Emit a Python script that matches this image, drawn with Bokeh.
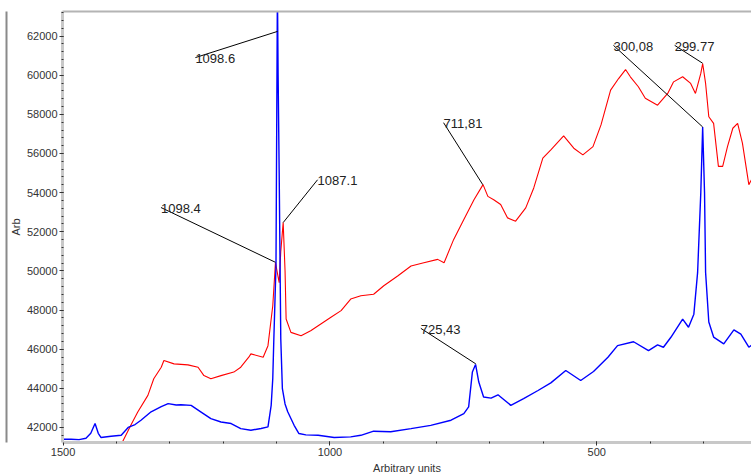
from bokeh.plotting import figure
from bokeh.models import Range1d, SingleIntervalTicker, LinearAxis, FixedTicker
from bokeh.core.properties import value
from bokeh.embed import file_html
from bokeh.resources import INLINE

# Blue spectrum
blue_x = [1500, 1485, 1470, 1457, 1448, 1440, 1434, 1429, 1410, 1391, 1378, 1365, 1354, 1335,
          1316, 1303, 1288, 1279, 1260, 1242, 1223, 1204, 1185, 1167, 1148, 1129, 1116, 1110,
          1107, 1105, 1101, 1099.5, 1098.3, 1097, 1095, 1092, 1089, 1084, 1079, 1067, 1058, 1045,
          1022, 992, 961, 942, 918, 886, 848, 811, 773, 749, 740, 733, 727, 721, 712, 698,
          685, 680, 661, 637, 610, 586, 558, 530, 506, 479, 461, 431, 403, 386, 375, 361,
          339, 328, 318, 311, 305, 301.5, 298, 296, 290, 281, 262, 243, 230, 215, 210]
blue_y = [41400, 41400, 41380, 41450, 41700, 42200, 41700, 41490, 41550, 41600, 42000, 42150,
          42370, 42800, 43060, 43220, 43150, 43160, 43130, 42800, 42450, 42280, 42200, 41940,
          41860, 41950, 42030, 43130, 44500, 46520, 50250, 58000, 64500, 60000, 55000, 46520,
          43980, 43200, 42800, 42110, 41690, 41620, 41600, 41490, 41520, 41600, 41810, 41780,
          41940, 42110, 42370, 42710, 43050, 44830, 45220, 44320, 43560, 43500, 43670, 43560,
          43130, 43470, 43890, 44280, 44910, 44400, 44860, 45590, 46180, 46380, 45930, 46220,
          46100, 46610, 47540, 47120, 47790, 49910, 54000, 57356, 54000, 49920, 47390, 46620,
          46270, 46990, 46770, 46100, 46200]

# Red spectrum
red_x = [1395, 1388, 1373, 1360, 1341, 1330, 1316, 1311, 1292, 1266, 1247, 1236, 1223, 1204,
         1180, 1167, 1152, 1148, 1125, 1116, 1107, 1102, 1095, 1092, 1087.5, 1084, 1082, 1073,
         1054, 1036, 1017, 998, 979, 961, 942, 918, 899, 873, 848, 824, 798, 786, 768, 749,
         730, 713, 704, 693, 680, 667, 652, 633, 618, 601, 586, 562, 543, 526, 507, 492, 474,
         459, 446, 437, 422, 409, 386, 367, 356, 339, 324, 315, 305, 301.5, 296, 290, 281,
         272, 264, 255, 245, 236, 227, 215, 210]
red_y = [40800, 41300, 42110, 42790, 43640, 44490, 45080, 45420, 45250, 45200, 45080, 44650,
         44490, 44650, 44830, 45080, 45590, 45760, 45590, 46180, 48220, 50420, 49400, 51000,
         52470, 50000, 47540, 46860, 46690, 46940, 47290, 47630, 47970, 48560, 48730, 48810,
         49240, 49740, 50250, 50420, 50590, 50420, 51610, 52630, 53640, 54410, 53810, 53640,
         53390, 52710, 52540, 53220, 54240, 55760, 56190, 56900, 56270, 55930, 56350, 57460,
         59240, 59830, 60290, 59920, 59410, 58820, 58470, 59070, 59660, 59920, 59580, 59070,
         60090, 60600, 59580, 57880, 57540, 55340, 55340, 56350, 57290, 57540, 56530, 54410,
         54660]

# Peak annotations: label, peak point, label anchor
ann_labels = ["1098.6", "1098.4", "1087.1", "711,81", "725,43", "300,08", "299.77"]
ann_px = [1098, 1102, 1087.5, 713.5, 726.6, 301.5, 301.5]
ann_py = [62240, 50440, 52470, 54406, 45250, 57356, 60611]
ann_tx = [1252, 1316.5, 1023, 787, 829.6, 468.7, 354]
ann_ty = [60900, 53240, 54660, 57575, 47066, 61527, 61527]

x_ticks_interval = 500
y_ticks_interval = 2000

p = figure(width=751, height=476,
           x_range=Range1d(1501, 210), y_range=Range1d(41232, 63256),
           output_backend="svg", toolbar_location=None,
           min_border_left=62, min_border_right=0, min_border_top=11, min_border_bottom=32)

p.xgrid.visible = False
p.ygrid.visible = False
p.outline_line_color = None
p.background_fill_color = "white"
p.border_fill_color = "white"

p.line(red_x, red_y, line_color="#ff0000", line_width=1.1)
p.line(blue_x, blue_y, line_color="#0000ff", line_width=1.4)

p.segment(x0=ann_tx, y0=ann_ty, x1=ann_px, y1=ann_py, line_color="black", line_width=1)
p.text(x=ann_tx, y=ann_ty, text=ann_labels, text_font=value("Liberation Sans"),
       text_font_size="13px", text_color="#222222", text_baseline="alphabetic",
       text_align="left", y_offset=1)

p.xaxis.ticker = SingleIntervalTicker(interval=x_ticks_interval, num_minor_ticks=5)
p.yaxis.ticker = SingleIntervalTicker(interval=y_ticks_interval, num_minor_ticks=5)
p.xaxis.axis_label = "Arbitrary units"
p.yaxis.axis_label = "Arb"

for ax in (p.xaxis, p.yaxis):
    ax.axis_line_color = "#c8c8c8"
    ax.axis_line_width = 3
    ax.major_tick_line_color = "#333333"
    ax.major_tick_out = 3
    ax.major_tick_in = 1
    ax.minor_tick_line_color = "#333333"
    ax.minor_tick_in = 1
    ax.minor_tick_out = 1
    ax.major_label_text_font = "Liberation Sans"
    ax.major_label_text_font_size = "11px"
    ax.major_label_text_color = "#333333"
    ax.axis_label_text_font = "Liberation Sans"
    ax.axis_label_text_font_size = "11px"
    ax.axis_label_text_font_style = "normal"
    ax.axis_label_text_color = "#333333"
    ax.major_label_standoff = 2

p.yaxis.axis_label_standoff = 2
p.xaxis.axis_label_standoff = 3

# outer chart border lines: bare axes with only their line
outer_left = LinearAxis(ticker=FixedTicker(ticks=[]), axis_line_color="#8a8a8a",
                        axis_line_width=2, major_tick_line_color=None,
                        minor_tick_line_color=None, major_label_text_font_size="0px")
outer_top = LinearAxis(ticker=FixedTicker(ticks=[]), axis_line_color="#b4b4b4",
                       axis_line_width=2, major_tick_line_color=None,
                       minor_tick_line_color=None, major_label_text_font_size="0px")
p.add_layout(outer_left, "left")
p.add_layout(outer_top, "above")

open("out.html", "w").write(file_html(p, INLINE))
